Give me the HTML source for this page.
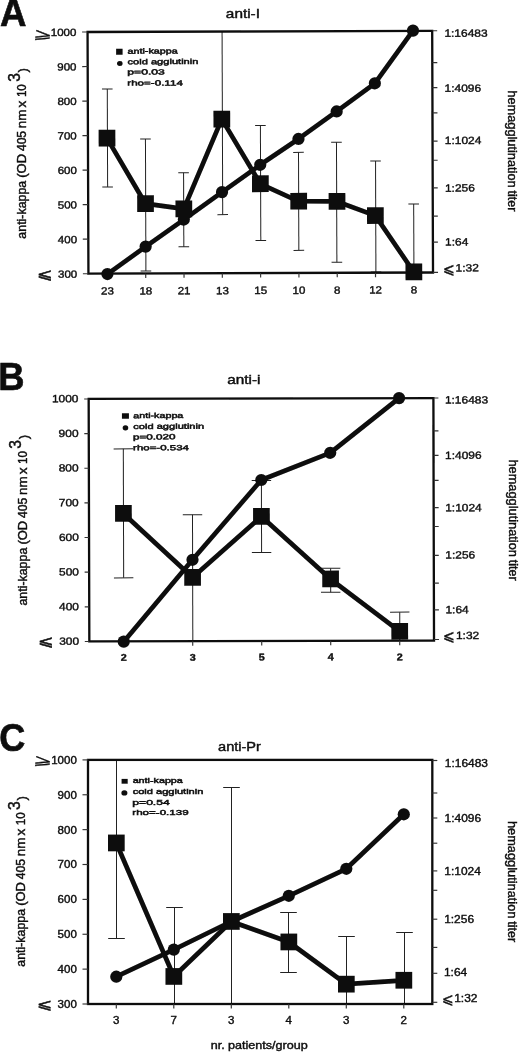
<!DOCTYPE html>
<html lang="en"><head><meta charset="utf-8"><title>anti-kappa vs hemagglutination titer</title>
<style>html,body{margin:0;padding:0;background:#fff}svg{display:block}text{font-family:"Liberation Sans", sans-serif;fill:#0a0a0a}</style>
</head><body>
<svg width="520" height="1053" viewBox="0 0 520 1053">
<defs><filter id="soft" x="0" y="0" width="520" height="1053" filterUnits="userSpaceOnUse"><feGaussianBlur stdDeviation="0.3"/></filter></defs>
<rect width="520" height="1053" fill="#fff"/>
<g filter="url(#soft)">
<g id="chart-A">
<text transform="translate(-0.11 26.3) scale(0.9574 1)" font-size="38.3" font-weight="bold" stroke="#0a0a0a" stroke-width="0.6">A</text>
<text transform="translate(225.85 18.2) scale(1.1915 1)" font-size="12.9" stroke="#0a0a0a" stroke-width="0.4">anti-I</text>
<g transform="rotate(-0.2 260.3 152.25)">
<g stroke="#222" stroke-width="1" fill="none">
<path d="M107.5 88.5V186.5"/>
<path d="M102.2 88.5H112.8"/>
<path d="M102.2 186.5H112.8"/>
<path d="M145.5 138.5V270.5"/>
<path d="M140.2 138.5H150.8"/>
<path d="M140.2 270.5H150.8"/>
<path d="M183.5 172.5V246.5"/>
<path d="M178.2 172.5H188.8"/>
<path d="M178.2 246.5H188.8"/>
<path d="M222.5 31.4V214.5"/>
<path d="M217.2 214.5H227.8"/>
<path d="M260.5 125.5V240.5"/>
<path d="M255.2 125.5H265.8"/>
<path d="M255.2 240.5H265.8"/>
<path d="M298.5 152.5V250.5"/>
<path d="M293.2 152.5H303.8"/>
<path d="M293.2 250.5H303.8"/>
<path d="M336.5 142.5V262.5"/>
<path d="M331.2 142.5H341.8"/>
<path d="M331.2 262.5H341.8"/>
<path d="M375.5 161.5V272.5"/>
<path d="M370.2 161.5H380.8"/>
<path d="M370.2 272.5H380.8"/>
<path d="M413.5 204.5V273.1"/>
<path d="M408.2 204.5H418.8"/>
</g>
<rect x="88" y="31.4" width="344.6" height="241.70000000000002" fill="none" stroke="#0a0a0a" stroke-width="2.3"/>
<g stroke="#333" stroke-width="1.15">
<path d="M82.5 31.40H88"/>
<path d="M82.5 65.93H88"/>
<path d="M82.5 100.46H88"/>
<path d="M82.5 134.99H88"/>
<path d="M82.5 169.51H88"/>
<path d="M82.5 204.04H88"/>
<path d="M82.5 238.57H88"/>
<path d="M82.5 273.10H88"/>
<path d="M432.6 31.4H437.6"/>
<path d="M432.6 63.3H437.6"/>
<path d="M432.6 88.2H437.6"/>
<path d="M432.6 113.5H437.6"/>
<path d="M432.6 141.7H437.6"/>
<path d="M432.6 160.9H437.6"/>
<path d="M432.6 188.5H437.6"/>
<path d="M432.6 216.7H437.6"/>
<path d="M432.6 242.8H437.6"/>
<path d="M432.6 273H437.6"/>
<path d="M107.0 273.1V277.6"/>
<path d="M145.3 273.1V277.6"/>
<path d="M183.6 273.1V277.6"/>
<path d="M221.9 273.1V277.6"/>
<path d="M260.2 273.1V277.6"/>
<path d="M298.5 273.1V277.6"/>
<path d="M336.8 273.1V277.6"/>
<path d="M375.1 273.1V277.6"/>
<path d="M413.4 273.1V277.6"/>
</g>
<text transform="translate(76.8 35.3) scale(1.1 1)" font-size="10.5" text-anchor="end" stroke="#0a0a0a" stroke-width="0.35">1000</text>
<text transform="translate(76.8 69.83) scale(1.1 1)" font-size="10.5" text-anchor="end" stroke="#0a0a0a" stroke-width="0.35">900</text>
<text transform="translate(76.8 104.36) scale(1.1 1)" font-size="10.5" text-anchor="end" stroke="#0a0a0a" stroke-width="0.35">800</text>
<text transform="translate(76.8 138.89) scale(1.1 1)" font-size="10.5" text-anchor="end" stroke="#0a0a0a" stroke-width="0.35">700</text>
<text transform="translate(76.8 173.41) scale(1.1 1)" font-size="10.5" text-anchor="end" stroke="#0a0a0a" stroke-width="0.35">600</text>
<text transform="translate(76.8 207.94) scale(1.1 1)" font-size="10.5" text-anchor="end" stroke="#0a0a0a" stroke-width="0.35">500</text>
<text transform="translate(76.8 242.47) scale(1.1 1)" font-size="10.5" text-anchor="end" stroke="#0a0a0a" stroke-width="0.35">400</text>
<text transform="translate(76.8 277.0) scale(1.1 1)" font-size="10.5" text-anchor="end" stroke="#0a0a0a" stroke-width="0.35">300</text>
<text transform="rotate(8 42.5 33.50) translate(33.8 38.30) scale(1.12 0.72)" font-size="20" stroke="#0a0a0a" stroke-width="0.3" font-family='"DejaVu Sans", "Liberation Sans", sans-serif'>⩾</text>
<text transform="translate(36.80 278.00) scale(0.93 0.72)" font-size="20" stroke="#0a0a0a" stroke-width="0.7" font-family='"DejaVu Sans", "Liberation Sans", sans-serif'>⩽</text>
<text transform="translate(444.79 37.4) scale(1.14 1)" font-size="10.5" stroke="#0a0a0a" stroke-width="0.35">1:16483</text>
<text transform="translate(444.79 92.4) scale(1.1399 1)" font-size="10.5" stroke="#0a0a0a" stroke-width="0.35">1:4096</text>
<text transform="translate(444.79 144.7) scale(1.14 1)" font-size="10.5" stroke="#0a0a0a" stroke-width="0.35">1:1024</text>
<text transform="translate(444.79 192.3) scale(1.1401 1)" font-size="10.5" stroke="#0a0a0a" stroke-width="0.35">1:256</text>
<text transform="translate(444.79 246.1) scale(1.1398 1)" font-size="10.5" stroke="#0a0a0a" stroke-width="0.35">1:64</text>
<text transform="translate(442.50 274.80) scale(0.70 0.76)" font-size="20" stroke="#0a0a0a" stroke-width="0.5" font-family='"DejaVu Sans", "Liberation Sans", sans-serif'>⩽</text>
<text transform="translate(455.19 272.1) scale(1.1409 1)" font-size="10.5" stroke="#0a0a0a" stroke-width="0.35">1:32</text>
<polyline points="107.0,137.6 145.3,203.3 183.6,208.6 221.9,119 260.2,183.8 298.5,201.4 336.8,201.7 375.1,216 413.4,272.5" fill="none" stroke="#0a0a0a" stroke-width="4.7" stroke-linejoin="round"/>
<polyline points="107.0,273.5 145.3,246.2 183.6,219.3 221.9,192 260.2,164.8 298.5,139.1 336.8,111.7 375.1,83.7 413.4,31.2" fill="none" stroke="#0a0a0a" stroke-width="4.7" stroke-linejoin="round"/>
<rect x="98.7" y="129.2" width="16.7" height="16.7" fill="#0a0a0a"/>
<circle cx="107.0" cy="273.5" r="6.1" fill="#0a0a0a"/>
<rect x="137.0" y="194.9" width="16.7" height="16.7" fill="#0a0a0a"/>
<circle cx="145.3" cy="246.2" r="6.1" fill="#0a0a0a"/>
<rect x="175.3" y="200.2" width="16.7" height="16.7" fill="#0a0a0a"/>
<circle cx="183.6" cy="219.3" r="6.1" fill="#0a0a0a"/>
<rect x="213.6" y="110.6" width="16.7" height="16.7" fill="#0a0a0a"/>
<circle cx="221.9" cy="192" r="6.1" fill="#0a0a0a"/>
<rect x="251.9" y="175.4" width="16.7" height="16.7" fill="#0a0a0a"/>
<circle cx="260.2" cy="164.8" r="6.1" fill="#0a0a0a"/>
<rect x="290.2" y="193.0" width="16.7" height="16.7" fill="#0a0a0a"/>
<circle cx="298.5" cy="139.1" r="6.1" fill="#0a0a0a"/>
<rect x="328.5" y="193.3" width="16.7" height="16.7" fill="#0a0a0a"/>
<circle cx="336.8" cy="111.7" r="6.1" fill="#0a0a0a"/>
<rect x="366.8" y="207.6" width="16.7" height="16.7" fill="#0a0a0a"/>
<circle cx="375.1" cy="83.7" r="6.1" fill="#0a0a0a"/>
<rect x="405.1" y="264.1" width="16.7" height="16.7" fill="#0a0a0a"/>
<circle cx="413.4" cy="31.2" r="6.1" fill="#0a0a0a"/>
<text transform="translate(107.0 294) scale(1.1 1)" font-size="10.5" text-anchor="middle" stroke="#0a0a0a" stroke-width="0.35">23</text>
<text transform="translate(145.3 294) scale(1.1 1)" font-size="10.5" text-anchor="middle" stroke="#0a0a0a" stroke-width="0.35">18</text>
<text transform="translate(183.6 294) scale(1.1 1)" font-size="10.5" text-anchor="middle" stroke="#0a0a0a" stroke-width="0.35">21</text>
<text transform="translate(221.9 294) scale(1.1 1)" font-size="10.5" text-anchor="middle" stroke="#0a0a0a" stroke-width="0.35">13</text>
<text transform="translate(260.2 294) scale(1.1 1)" font-size="10.5" text-anchor="middle" stroke="#0a0a0a" stroke-width="0.35">15</text>
<text transform="translate(298.5 294) scale(1.1 1)" font-size="10.5" text-anchor="middle" stroke="#0a0a0a" stroke-width="0.35">10</text>
<text transform="translate(336.8 294) scale(1.1 1)" font-size="10.5" text-anchor="middle" stroke="#0a0a0a" stroke-width="0.35">8</text>
<text transform="translate(375.1 294) scale(1.1 1)" font-size="10.5" text-anchor="middle" stroke="#0a0a0a" stroke-width="0.35">12</text>
<text transform="translate(413.4 294) scale(1.1 1)" font-size="10.5" text-anchor="middle" stroke="#0a0a0a" stroke-width="0.35">8</text>
<rect x="116.5" y="48.3" width="6.4" height="6" fill="#0a0a0a"/>
<ellipse cx="120.1" cy="62.9" rx="2.8" ry="2.5" fill="#0a0a0a"/>
<text transform="translate(127.84 53.2) scale(1.4543 1)" font-size="7.4" stroke="#0a0a0a" stroke-width="0.45">anti-kappa</text>
<text transform="translate(127.83 63.75) scale(1.5005 1)" font-size="7.4" stroke="#0a0a0a" stroke-width="0.45">cold agglutinin</text>
<text transform="translate(127.51 74.1) scale(1.6472 1)" font-size="7.4" stroke="#0a0a0a" stroke-width="0.45">p=0.03</text>
<text transform="translate(127.53 85.1) scale(1.5698 1)" font-size="7.4" stroke="#0a0a0a" stroke-width="0.45">rho=-0.114</text>
</g>
<text transform="translate(25.8 238.63) rotate(-90) scale(1.0319 1)" font-size="12" stroke="#0a0a0a" stroke-width="0.4">anti-kappa</text>
<text transform="translate(25.8 177.70) rotate(-90) scale(1.0785 1)" font-size="12" stroke="#0a0a0a" stroke-width="0.4">(OD</text>
<text transform="translate(25.8 151.08) rotate(-90) scale(1.0082 1)" font-size="12" stroke="#0a0a0a" stroke-width="0.4">405</text>
<text transform="translate(25.8 128.19) rotate(-90) scale(1.1205 1)" font-size="12" stroke="#0a0a0a" stroke-width="0.4">nm</text>
<text transform="translate(25.8 107.45) rotate(-90) scale(1.1331 1)" font-size="12" stroke="#0a0a0a" stroke-width="0.4">x</text>
<text transform="translate(25.8 97.09) rotate(-90) scale(0.9695 1)" font-size="12" stroke="#0a0a0a" stroke-width="0.4">10</text>
<text transform="translate(20.4 81.79) rotate(-90) scale(0.9181 1)" font-size="17" stroke="#0a0a0a" stroke-width="0.4">3</text>
<text transform="translate(26.6 72.38) rotate(-90) scale(1.0154 1)" font-size="13" stroke="#0a0a0a" stroke-width="0.4">)</text>
<text transform="translate(508.2 90.31) rotate(90) scale(1.0658 1)" font-size="12" stroke="#0a0a0a" stroke-width="0.4">hemagglutination</text>
<text transform="translate(508.2 190.61) rotate(90) scale(1.0396 1)" font-size="12" stroke="#0a0a0a" stroke-width="0.4">titer</text>
</g>
<g id="chart-B">
<text transform="translate(-1.74 390.3) scale(0.9504 1)" font-size="38.3" font-weight="bold" stroke="#0a0a0a" stroke-width="0.6">B</text>
<text transform="translate(227.25 384.4) scale(1.1867 1)" font-size="12.9" stroke="#0a0a0a" stroke-width="0.4">anti-i</text>
<g transform="rotate(-0.15 261.35 519.75)">
<g stroke="#222" stroke-width="1" fill="none">
<path d="M123.5 448.5V577.5"/>
<path d="M113.8 448.5H133.2"/>
<path d="M113.8 577.5H133.2"/>
<path d="M192.5 514.5V641"/>
<path d="M182.8 514.5H202.2"/>
<path d="M261.5 480.5V552.5"/>
<path d="M251.8 480.5H271.2"/>
<path d="M251.8 552.5H271.2"/>
<path d="M330.5 568.5V592.5"/>
<path d="M320.8 568.5H340.2"/>
<path d="M320.8 592.5H340.2"/>
<path d="M399.5 612.5V641"/>
<path d="M389.8 612.5H409.2"/>
</g>
<rect x="89" y="398.5" width="344.7" height="242.5" fill="none" stroke="#0a0a0a" stroke-width="2.3"/>
<g stroke="#333" stroke-width="1.15">
<path d="M84.5 398.50H89"/>
<path d="M84.5 433.14H89"/>
<path d="M84.5 467.79H89"/>
<path d="M84.5 502.43H89"/>
<path d="M84.5 537.07H89"/>
<path d="M84.5 571.71H89"/>
<path d="M84.5 606.36H89"/>
<path d="M84.5 641.00H89"/>
<path d="M433.7 398.5H438.7"/>
<path d="M433.7 431.4H438.7"/>
<path d="M433.7 455.9H438.7"/>
<path d="M433.7 480.9H438.7"/>
<path d="M433.7 508.1H438.7"/>
<path d="M433.7 527H438.7"/>
<path d="M433.7 555.9H438.7"/>
<path d="M433.7 583.6H438.7"/>
<path d="M433.7 610.3H438.7"/>
<path d="M433.7 640H438.7"/>
<path d="M123.4 641V645.5"/>
<path d="M192.4 641V645.5"/>
<path d="M261.4 641V645.5"/>
<path d="M330.4 641V645.5"/>
<path d="M399.4 641V645.5"/>
</g>
<text transform="translate(78.8 401.8) scale(1.14 1)" font-size="10.5" text-anchor="end" stroke="#0a0a0a" stroke-width="0.35">1000</text>
<text transform="translate(78.8 436.44) scale(1.14 1)" font-size="10.5" text-anchor="end" stroke="#0a0a0a" stroke-width="0.35">900</text>
<text transform="translate(78.8 471.09) scale(1.14 1)" font-size="10.5" text-anchor="end" stroke="#0a0a0a" stroke-width="0.35">800</text>
<text transform="translate(78.8 505.73) scale(1.14 1)" font-size="10.5" text-anchor="end" stroke="#0a0a0a" stroke-width="0.35">700</text>
<text transform="translate(78.8 540.37) scale(1.14 1)" font-size="10.5" text-anchor="end" stroke="#0a0a0a" stroke-width="0.35">600</text>
<text transform="translate(78.8 575.01) scale(1.14 1)" font-size="10.5" text-anchor="end" stroke="#0a0a0a" stroke-width="0.35">500</text>
<text transform="translate(78.8 609.66) scale(1.14 1)" font-size="10.5" text-anchor="end" stroke="#0a0a0a" stroke-width="0.35">400</text>
<text transform="translate(78.8 644.3) scale(1.14 1)" font-size="10.5" text-anchor="end" stroke="#0a0a0a" stroke-width="0.35">300</text>
<text transform="translate(37.80 645.90) scale(0.93 0.72)" font-size="20" stroke="#0a0a0a" stroke-width="0.7" font-family='"DejaVu Sans", "Liberation Sans", sans-serif'>⩽</text>
<text transform="translate(445.19 404.0) scale(1.14 1)" font-size="10.5" stroke="#0a0a0a" stroke-width="0.35">1:16483</text>
<text transform="translate(445.19 459.4) scale(1.1399 1)" font-size="10.5" stroke="#0a0a0a" stroke-width="0.35">1:4096</text>
<text transform="translate(445.19 511.7) scale(1.14 1)" font-size="10.5" stroke="#0a0a0a" stroke-width="0.35">1:1024</text>
<text transform="translate(445.19 559.1) scale(1.1401 1)" font-size="10.5" stroke="#0a0a0a" stroke-width="0.35">1:256</text>
<text transform="translate(445.19 613.8) scale(1.1398 1)" font-size="10.5" stroke="#0a0a0a" stroke-width="0.35">1:64</text>
<text transform="translate(442.90 641.00) scale(0.70 0.76)" font-size="20" stroke="#0a0a0a" stroke-width="0.5" font-family='"DejaVu Sans", "Liberation Sans", sans-serif'>⩽</text>
<text transform="translate(455.59 639.6) scale(1.1409 1)" font-size="10.5" stroke="#0a0a0a" stroke-width="0.35">1:32</text>
<polyline points="123.4,513.1 192.4,577.3 261.4,516.5 330.4,579.2 399.4,631.7" fill="none" stroke="#0a0a0a" stroke-width="4.7" stroke-linejoin="round"/>
<polyline points="123.4,641.3 192.4,559.6 261.4,480 330.4,453 399.4,398.5" fill="none" stroke="#0a0a0a" stroke-width="4.7" stroke-linejoin="round"/>
<rect x="115.1" y="504.7" width="16.7" height="16.7" fill="#0a0a0a"/>
<circle cx="123.4" cy="641.3" r="6.1" fill="#0a0a0a"/>
<rect x="184.1" y="568.9" width="16.7" height="16.7" fill="#0a0a0a"/>
<circle cx="192.4" cy="559.6" r="6.1" fill="#0a0a0a"/>
<rect x="253.1" y="508.1" width="16.7" height="16.7" fill="#0a0a0a"/>
<circle cx="261.4" cy="480" r="6.1" fill="#0a0a0a"/>
<rect x="322.1" y="570.8" width="16.7" height="16.7" fill="#0a0a0a"/>
<circle cx="330.4" cy="453" r="6.1" fill="#0a0a0a"/>
<rect x="391.1" y="623.3" width="16.7" height="16.7" fill="#0a0a0a"/>
<circle cx="399.4" cy="398.5" r="6.1" fill="#0a0a0a"/>
<text transform="translate(123.4 660.5) scale(1.1 1)" font-size="9.8" text-anchor="middle" font-weight="bold" stroke="#0a0a0a" stroke-width="0.35">2</text>
<text transform="translate(192.4 660.5) scale(1.1 1)" font-size="9.8" text-anchor="middle" font-weight="bold" stroke="#0a0a0a" stroke-width="0.35">3</text>
<text transform="translate(261.4 660.5) scale(1.1 1)" font-size="9.8" text-anchor="middle" font-weight="bold" stroke="#0a0a0a" stroke-width="0.35">5</text>
<text transform="translate(330.4 660.5) scale(1.1 1)" font-size="9.8" text-anchor="middle" font-weight="bold" stroke="#0a0a0a" stroke-width="0.35">4</text>
<text transform="translate(399.4 660.5) scale(1.1 1)" font-size="9.8" text-anchor="middle" font-weight="bold" stroke="#0a0a0a" stroke-width="0.35">2</text>
<rect x="122.2" y="412.9" width="7.0" height="5.5" fill="#0a0a0a"/>
<ellipse cx="125.7" cy="427.5" rx="2.8" ry="2.7" fill="#0a0a0a"/>
<text transform="translate(133.54 417.8) scale(1.4485 1)" font-size="7.4" stroke="#0a0a0a" stroke-width="0.45">anti-kappa</text>
<text transform="translate(133.53 428.6) scale(1.4994 1)" font-size="7.4" stroke="#0a0a0a" stroke-width="0.45">cold agglutinin</text>
<text transform="translate(133.25 439.1) scale(1.5808 1)" font-size="7.4" stroke="#0a0a0a" stroke-width="0.45">p=0.020</text>
<text transform="translate(133.24 450) scale(1.5542 1)" font-size="7.4" stroke="#0a0a0a" stroke-width="0.45">rho=-0.534</text>
</g>
<text transform="translate(26.8 605.53) rotate(-90) scale(1.0319 1)" font-size="12" stroke="#0a0a0a" stroke-width="0.4">anti-kappa</text>
<text transform="translate(26.8 544.60) rotate(-90) scale(1.0785 1)" font-size="12" stroke="#0a0a0a" stroke-width="0.4">(OD</text>
<text transform="translate(26.8 517.98) rotate(-90) scale(1.0082 1)" font-size="12" stroke="#0a0a0a" stroke-width="0.4">405</text>
<text transform="translate(26.8 495.09) rotate(-90) scale(1.1205 1)" font-size="12" stroke="#0a0a0a" stroke-width="0.4">nm</text>
<text transform="translate(26.8 474.35) rotate(-90) scale(1.1331 1)" font-size="12" stroke="#0a0a0a" stroke-width="0.4">x</text>
<text transform="translate(26.8 463.99) rotate(-90) scale(0.9695 1)" font-size="12" stroke="#0a0a0a" stroke-width="0.4">10</text>
<text transform="translate(21.4 448.69) rotate(-90) scale(0.9181 1)" font-size="17" stroke="#0a0a0a" stroke-width="0.4">3</text>
<text transform="translate(27.6 439.28) rotate(-90) scale(1.0154 1)" font-size="13" stroke="#0a0a0a" stroke-width="0.4">)</text>
<text transform="translate(508.9 459.51) rotate(90) scale(1.0658 1)" font-size="12" stroke="#0a0a0a" stroke-width="0.4">hemagglutination</text>
<text transform="translate(508.9 559.81) rotate(90) scale(1.0396 1)" font-size="12" stroke="#0a0a0a" stroke-width="0.4">titer</text>
</g>
<g id="chart-C">
<text transform="translate(-0.68 751) scale(0.9425 1)" font-size="38.3" font-weight="bold" stroke="#0a0a0a" stroke-width="0.6">C</text>
<text transform="translate(218.03 750.5) scale(1.1307 1)" font-size="12.9" stroke="#0a0a0a" stroke-width="0.4">anti-Pr</text>
<g transform="rotate(0 260.15 881.95)">
<g stroke="#222" stroke-width="1" fill="none">
<path d="M116.5 759.9V938.5"/>
<path d="M108.2 938.5H124.8"/>
<path d="M174.5 907.5V1004.0"/>
<path d="M166.2 907.5H182.8"/>
<path d="M231.5 787.5V1004.0"/>
<path d="M223.2 787.5H239.8"/>
<path d="M288.5 912.5V972.5"/>
<path d="M280.2 912.5H296.8"/>
<path d="M280.2 972.5H296.8"/>
<path d="M346.5 936.5V1004.0"/>
<path d="M338.2 936.5H354.8"/>
<path d="M404.5 932.5V1004.0"/>
<path d="M396.2 932.5H412.8"/>
</g>
<rect x="88" y="759.9" width="344.3" height="244.10000000000002" fill="none" stroke="#0a0a0a" stroke-width="2.3"/>
<g stroke="#333" stroke-width="1.15">
<path d="M82.5 759.90H88"/>
<path d="M82.5 794.77H88"/>
<path d="M82.5 829.64H88"/>
<path d="M82.5 864.51H88"/>
<path d="M82.5 899.39H88"/>
<path d="M82.5 934.26H88"/>
<path d="M82.5 969.13H88"/>
<path d="M82.5 1004.00H88"/>
<path d="M432.3 760.5H437.3"/>
<path d="M432.3 793H437.3"/>
<path d="M432.3 818H437.3"/>
<path d="M432.3 843.2H437.3"/>
<path d="M432.3 870.9H437.3"/>
<path d="M432.3 890.3H437.3"/>
<path d="M432.3 919.2H437.3"/>
<path d="M432.3 947.4H437.3"/>
<path d="M432.3 973.3H437.3"/>
<path d="M432.3 1002.3H437.3"/>
<path d="M116.3 1004.0V1008.5"/>
<path d="M173.8 1004.0V1008.5"/>
<path d="M231.3 1004.0V1008.5"/>
<path d="M288.8 1004.0V1008.5"/>
<path d="M346.3 1004.0V1008.5"/>
<path d="M403.8 1004.0V1008.5"/>
</g>
<text transform="translate(76.8 763.8) scale(1.1 1)" font-size="10.5" text-anchor="end" stroke="#0a0a0a" stroke-width="0.35">1000</text>
<text transform="translate(76.8 798.67) scale(1.1 1)" font-size="10.5" text-anchor="end" stroke="#0a0a0a" stroke-width="0.35">900</text>
<text transform="translate(76.8 833.54) scale(1.1 1)" font-size="10.5" text-anchor="end" stroke="#0a0a0a" stroke-width="0.35">800</text>
<text transform="translate(76.8 868.41) scale(1.1 1)" font-size="10.5" text-anchor="end" stroke="#0a0a0a" stroke-width="0.35">700</text>
<text transform="translate(76.8 903.29) scale(1.1 1)" font-size="10.5" text-anchor="end" stroke="#0a0a0a" stroke-width="0.35">600</text>
<text transform="translate(76.8 938.16) scale(1.1 1)" font-size="10.5" text-anchor="end" stroke="#0a0a0a" stroke-width="0.35">500</text>
<text transform="translate(76.8 973.03) scale(1.1 1)" font-size="10.5" text-anchor="end" stroke="#0a0a0a" stroke-width="0.35">400</text>
<text transform="translate(76.8 1007.9) scale(1.1 1)" font-size="10.5" text-anchor="end" stroke="#0a0a0a" stroke-width="0.35">300</text>
<text transform="rotate(8 42.5 760.50) translate(33.8 765.30) scale(1.12 0.72)" font-size="20" stroke="#0a0a0a" stroke-width="0.3" font-family='"DejaVu Sans", "Liberation Sans", sans-serif'>⩾</text>
<text transform="translate(36.80 1008.90) scale(0.93 0.72)" font-size="20" stroke="#0a0a0a" stroke-width="0.7" font-family='"DejaVu Sans", "Liberation Sans", sans-serif'>⩽</text>
<text transform="translate(444.76 767.0) scale(1.14 1)" font-size="10.5" stroke="#0a0a0a" stroke-width="0.35">1:16483</text>
<text transform="translate(444.54 821.9) scale(1.1399 1)" font-size="10.5" stroke="#0a0a0a" stroke-width="0.35">1:4096</text>
<text transform="translate(444.33 875.0) scale(1.14 1)" font-size="10.5" stroke="#0a0a0a" stroke-width="0.35">1:1024</text>
<text transform="translate(444.14 922.7) scale(1.1401 1)" font-size="10.5" stroke="#0a0a0a" stroke-width="0.35">1:256</text>
<text transform="translate(443.92 976.4) scale(1.1398 1)" font-size="10.5" stroke="#0a0a0a" stroke-width="0.35">1:64</text>
<text transform="translate(441.53 1004.30) scale(0.70 0.76)" font-size="20" stroke="#0a0a0a" stroke-width="0.5" font-family='"DejaVu Sans", "Liberation Sans", sans-serif'>⩽</text>
<text transform="translate(454.22 1002.0) scale(1.1409 1)" font-size="10.5" stroke="#0a0a0a" stroke-width="0.35">1:32</text>
<polyline points="116.3,843 173.8,976.5 231.3,921.5 288.8,942 346.3,984.2 403.8,980.3" fill="none" stroke="#0a0a0a" stroke-width="4.7" stroke-linejoin="round"/>
<polyline points="116.3,976.7 173.8,949.6 231.3,921.5 288.8,895.8 346.3,868.8 403.8,814.3" fill="none" stroke="#0a0a0a" stroke-width="4.7" stroke-linejoin="round"/>
<rect x="108.0" y="834.6" width="16.7" height="16.7" fill="#0a0a0a"/>
<circle cx="116.3" cy="976.7" r="6.1" fill="#0a0a0a"/>
<rect x="165.5" y="968.1" width="16.7" height="16.7" fill="#0a0a0a"/>
<circle cx="173.8" cy="949.6" r="6.1" fill="#0a0a0a"/>
<rect x="223.0" y="913.1" width="16.7" height="16.7" fill="#0a0a0a"/>
<circle cx="231.3" cy="921.5" r="6.1" fill="#0a0a0a"/>
<rect x="280.5" y="933.6" width="16.7" height="16.7" fill="#0a0a0a"/>
<circle cx="288.8" cy="895.8" r="6.1" fill="#0a0a0a"/>
<rect x="338.0" y="975.8" width="16.7" height="16.7" fill="#0a0a0a"/>
<circle cx="346.3" cy="868.8" r="6.1" fill="#0a0a0a"/>
<rect x="395.5" y="971.9" width="16.7" height="16.7" fill="#0a0a0a"/>
<circle cx="403.8" cy="814.3" r="6.1" fill="#0a0a0a"/>
<text transform="translate(116.3 1023.8) scale(1.1 1)" font-size="10.5" text-anchor="middle" stroke="#0a0a0a" stroke-width="0.35">3</text>
<text transform="translate(173.8 1023.8) scale(1.1 1)" font-size="10.5" text-anchor="middle" stroke="#0a0a0a" stroke-width="0.35">7</text>
<text transform="translate(231.3 1023.8) scale(1.1 1)" font-size="10.5" text-anchor="middle" stroke="#0a0a0a" stroke-width="0.35">3</text>
<text transform="translate(288.8 1023.8) scale(1.1 1)" font-size="10.5" text-anchor="middle" stroke="#0a0a0a" stroke-width="0.35">4</text>
<text transform="translate(346.3 1023.8) scale(1.1 1)" font-size="10.5" text-anchor="middle" stroke="#0a0a0a" stroke-width="0.35">3</text>
<text transform="translate(403.8 1023.8) scale(1.1 1)" font-size="10.5" text-anchor="middle" stroke="#0a0a0a" stroke-width="0.35">2</text>
<rect x="121.6" y="778.9" width="6.1" height="4.8" fill="#0a0a0a"/>
<ellipse cx="124.4" cy="792.9" rx="3" ry="2.6" fill="#0a0a0a"/>
<text transform="translate(132.64 783.2) scale(1.4543 1)" font-size="7.4" stroke="#0a0a0a" stroke-width="0.45">anti-kappa</text>
<text transform="translate(132.63 794) scale(1.4984 1)" font-size="7.4" stroke="#0a0a0a" stroke-width="0.45">cold agglutinin</text>
<text transform="translate(132.32 804.6) scale(1.6391 1)" font-size="7.4" stroke="#0a0a0a" stroke-width="0.45">p=0.54</text>
<text transform="translate(132.33 815.2) scale(1.5644 1)" font-size="7.4" stroke="#0a0a0a" stroke-width="0.45">rho=-0.139</text>
</g>
<text transform="translate(25.4 966.73) rotate(-90) scale(1.0319 1)" font-size="12" stroke="#0a0a0a" stroke-width="0.4">anti-kappa</text>
<text transform="translate(25.4 905.80) rotate(-90) scale(1.0785 1)" font-size="12" stroke="#0a0a0a" stroke-width="0.4">(OD</text>
<text transform="translate(25.4 879.18) rotate(-90) scale(1.0082 1)" font-size="12" stroke="#0a0a0a" stroke-width="0.4">405</text>
<text transform="translate(25.4 856.29) rotate(-90) scale(1.1205 1)" font-size="12" stroke="#0a0a0a" stroke-width="0.4">nm</text>
<text transform="translate(25.4 835.55) rotate(-90) scale(1.1331 1)" font-size="12" stroke="#0a0a0a" stroke-width="0.4">x</text>
<text transform="translate(25.4 825.19) rotate(-90) scale(0.9695 1)" font-size="12" stroke="#0a0a0a" stroke-width="0.4">10</text>
<text transform="translate(20.0 809.89) rotate(-90) scale(0.9181 1)" font-size="17" stroke="#0a0a0a" stroke-width="0.4">3</text>
<text transform="translate(26.2 800.48) rotate(-90) scale(1.0154 1)" font-size="13" stroke="#0a0a0a" stroke-width="0.4">)</text>
<text transform="translate(508.2 821.01) rotate(90) scale(1.0658 1)" font-size="12" stroke="#0a0a0a" stroke-width="0.4">hemagglutination</text>
<text transform="translate(508.2 921.31) rotate(90) scale(1.0396 1)" font-size="12" stroke="#0a0a0a" stroke-width="0.4">titer</text>
</g>
<text transform="translate(210.66 1048.8) scale(1.0747 1)" font-size="11.7" stroke="#0a0a0a" stroke-width="0.4">nr. patients/group</text>
</g>
</svg></body></html>
